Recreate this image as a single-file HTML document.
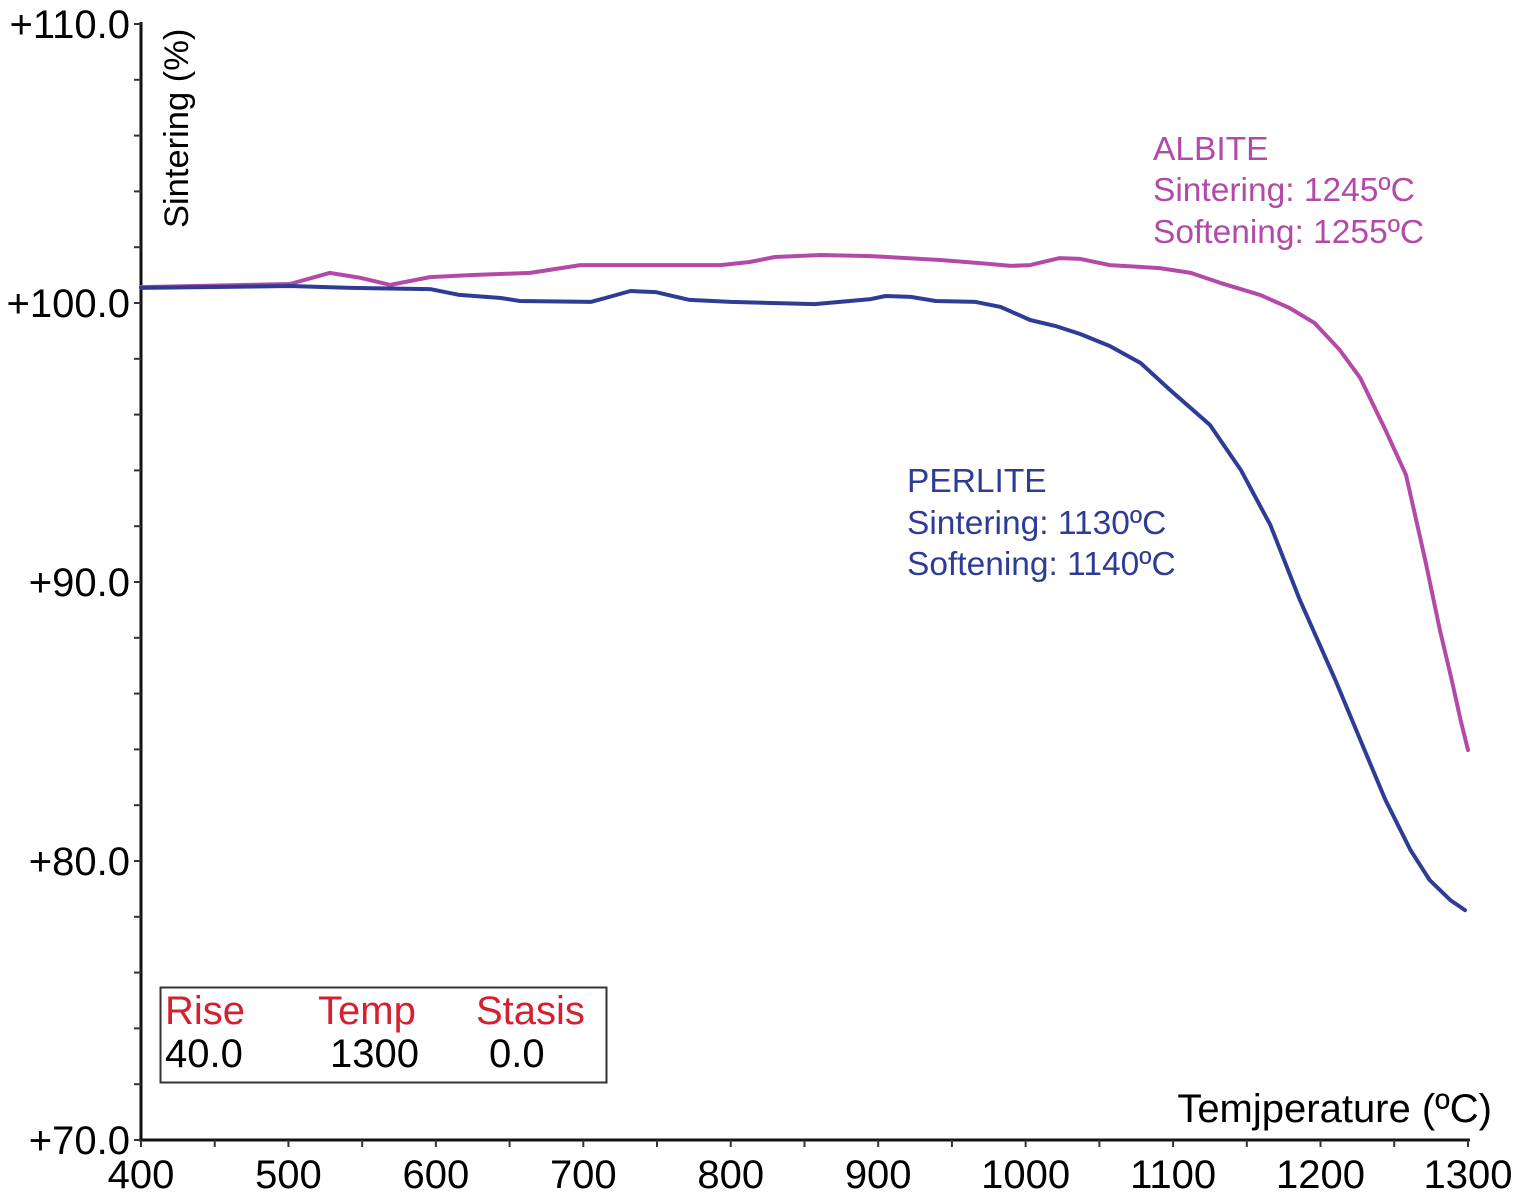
<!DOCTYPE html>
<html><head><meta charset="utf-8"><style>
html,body{margin:0;padding:0;background:#fff;}
svg{display:block;font-family:"Liberation Sans",sans-serif;}
</style></head><body>
<svg id="chart" width="1514" height="1196" viewBox="0 0 1514 1196">
<g id="axes"></g>
<g id="series"></g>
<text x="188" y="228" font-size="34.5" transform="rotate(-90 188 228)" fill="#000">Sintering (%)</text>
<text x="1492" y="1122" font-size="40" text-anchor="end" fill="#000">Temjperature (ºC)</text>
<g fill="#b34aa8" font-size="33.5">
<text x="1153" y="160">ALBITE</text>
<text x="1153" y="201">Sintering: 1245ºC</text>
<text x="1153" y="243">Softening: 1255ºC</text>
</g>
<g fill="#2e3c96" font-size="33.5">
<text x="907" y="492">PERLITE</text>
<text x="907" y="534">Sintering: 1130ºC</text>
<text x="907" y="575">Softening: 1140ºC</text>
</g>
<g>
<rect x="160.5" y="987.5" width="446" height="95" fill="#fff" stroke="#333" stroke-width="2"/>
<g fill="#d42030" font-size="40"><text x="165" y="1024">Rise</text><text x="318" y="1024">Temp</text><text x="476" y="1024">Stasis</text></g>
<g fill="#000" font-size="40"><text x="165" y="1067">40.0</text><text x="330" y="1067">1300</text><text x="489" y="1067">0.0</text></g>
</g>
</svg>
<script>
const xTicks=[400,500,600,700,800,900,1000,1100,1200,1300];
const yTicks=[70,80,90,100,110];
const yTickLabels=["+70.0","+80.0","+90.0","+100.0","+110.0"];
const albiteT=[400,501,528,549,569,596,623,664,698,745,793,813,830,861,895,942,969,990,1003,1023,1037,1057,1091,1112,1132,1159,1179,1196,1213,1227,1244,1258,1271,1281,1289,1295,1300];
const albiteV=[100.57,100.68,101.08,100.9,100.65,100.93,101.0,101.08,101.36,101.36,101.36,101.47,101.65,101.72,101.68,101.54,101.43,101.33,101.36,101.61,101.58,101.36,101.25,101.08,100.72,100.29,99.82,99.28,98.32,97.31,95.45,93.84,90.79,88.28,86.49,85.05,83.98];
const perliteT=[400,501,542,596,616,644,657,705,715,732,749,772,800,857,874,895,905,922,939,966,983,1003,1020,1037,1057,1078,1098,1125,1146,1166,1186,1210,1227,1244,1261,1274,1288,1298];
const perliteV=[100.54,100.61,100.54,100.5,100.29,100.18,100.07,100.04,100.18,100.43,100.39,100.11,100.04,99.96,100.04,100.14,100.25,100.22,100.07,100.04,99.86,99.39,99.18,98.89,98.46,97.85,96.88,95.63,94.01,92.04,89.35,86.49,84.34,82.19,80.39,79.32,78.6,78.24];
const NS='http://www.w3.org/2000/svg';
const xs=t=>141+(t-400)*1.4744;
const ys=v=>24+(110-v)*27.9;
const axes=document.getElementById('axes');
function mk(tag,attrs,parent){const e=document.createElementNS(NS,tag);for(const k in attrs)e.setAttribute(k,attrs[k]);parent.appendChild(e);return e;}
const yAxis=mk('line',{x1:141,y1:22,x2:141,y2:1141,stroke:'#111','stroke-width':3},axes);


const xAxis=mk('line',{x1:139,y1:1140,x2:1470,y2:1140,stroke:'#111','stroke-width':3},axes);


for(let t=400;t<=1300;t+=50){
  const tk=mk('line',{x1:xs(t),y1:1140,x2:xs(t),y2:1147,stroke:'#333','stroke-width':2},axes);
  
  
}
xTicks.forEach(t=>{
  const tx=mk('text',{x:xs(t),y:1188,'font-size':40,'text-anchor':'middle',fill:'#000'},axes);
  tx.textContent=String(t);
  
  
});
for(let v=70;v<=110;v+=2){
  const tk=mk('line',{x1:134,y1:ys(v),x2:141,y2:ys(v),stroke:'#333','stroke-width':2},axes);
  
  
}
yTicks.forEach((v,i)=>{
  const tx=mk('text',{x:130,y:ys(v)+14,'font-size':40,'text-anchor':'end',fill:'#000'},axes);
  tx.textContent=yTickLabels[i];
  
  
});
const series=document.getElementById('series');
function line(T,V,color,name){
  const pts=T.map((t,i)=>xs(t).toFixed(1)+','+ys(V[i]).toFixed(1)).join(' ');
  const p=mk('polyline',{points:pts,fill:'none',stroke:color,'stroke-width':4,'stroke-linejoin':'round','stroke-linecap':'round'},series);
  
  
}
line(albiteT,albiteV,'#b34aa8','albite-line');
line(perliteT,perliteV,'#2e3c96','perlite-line');
</script>
</body></html>
